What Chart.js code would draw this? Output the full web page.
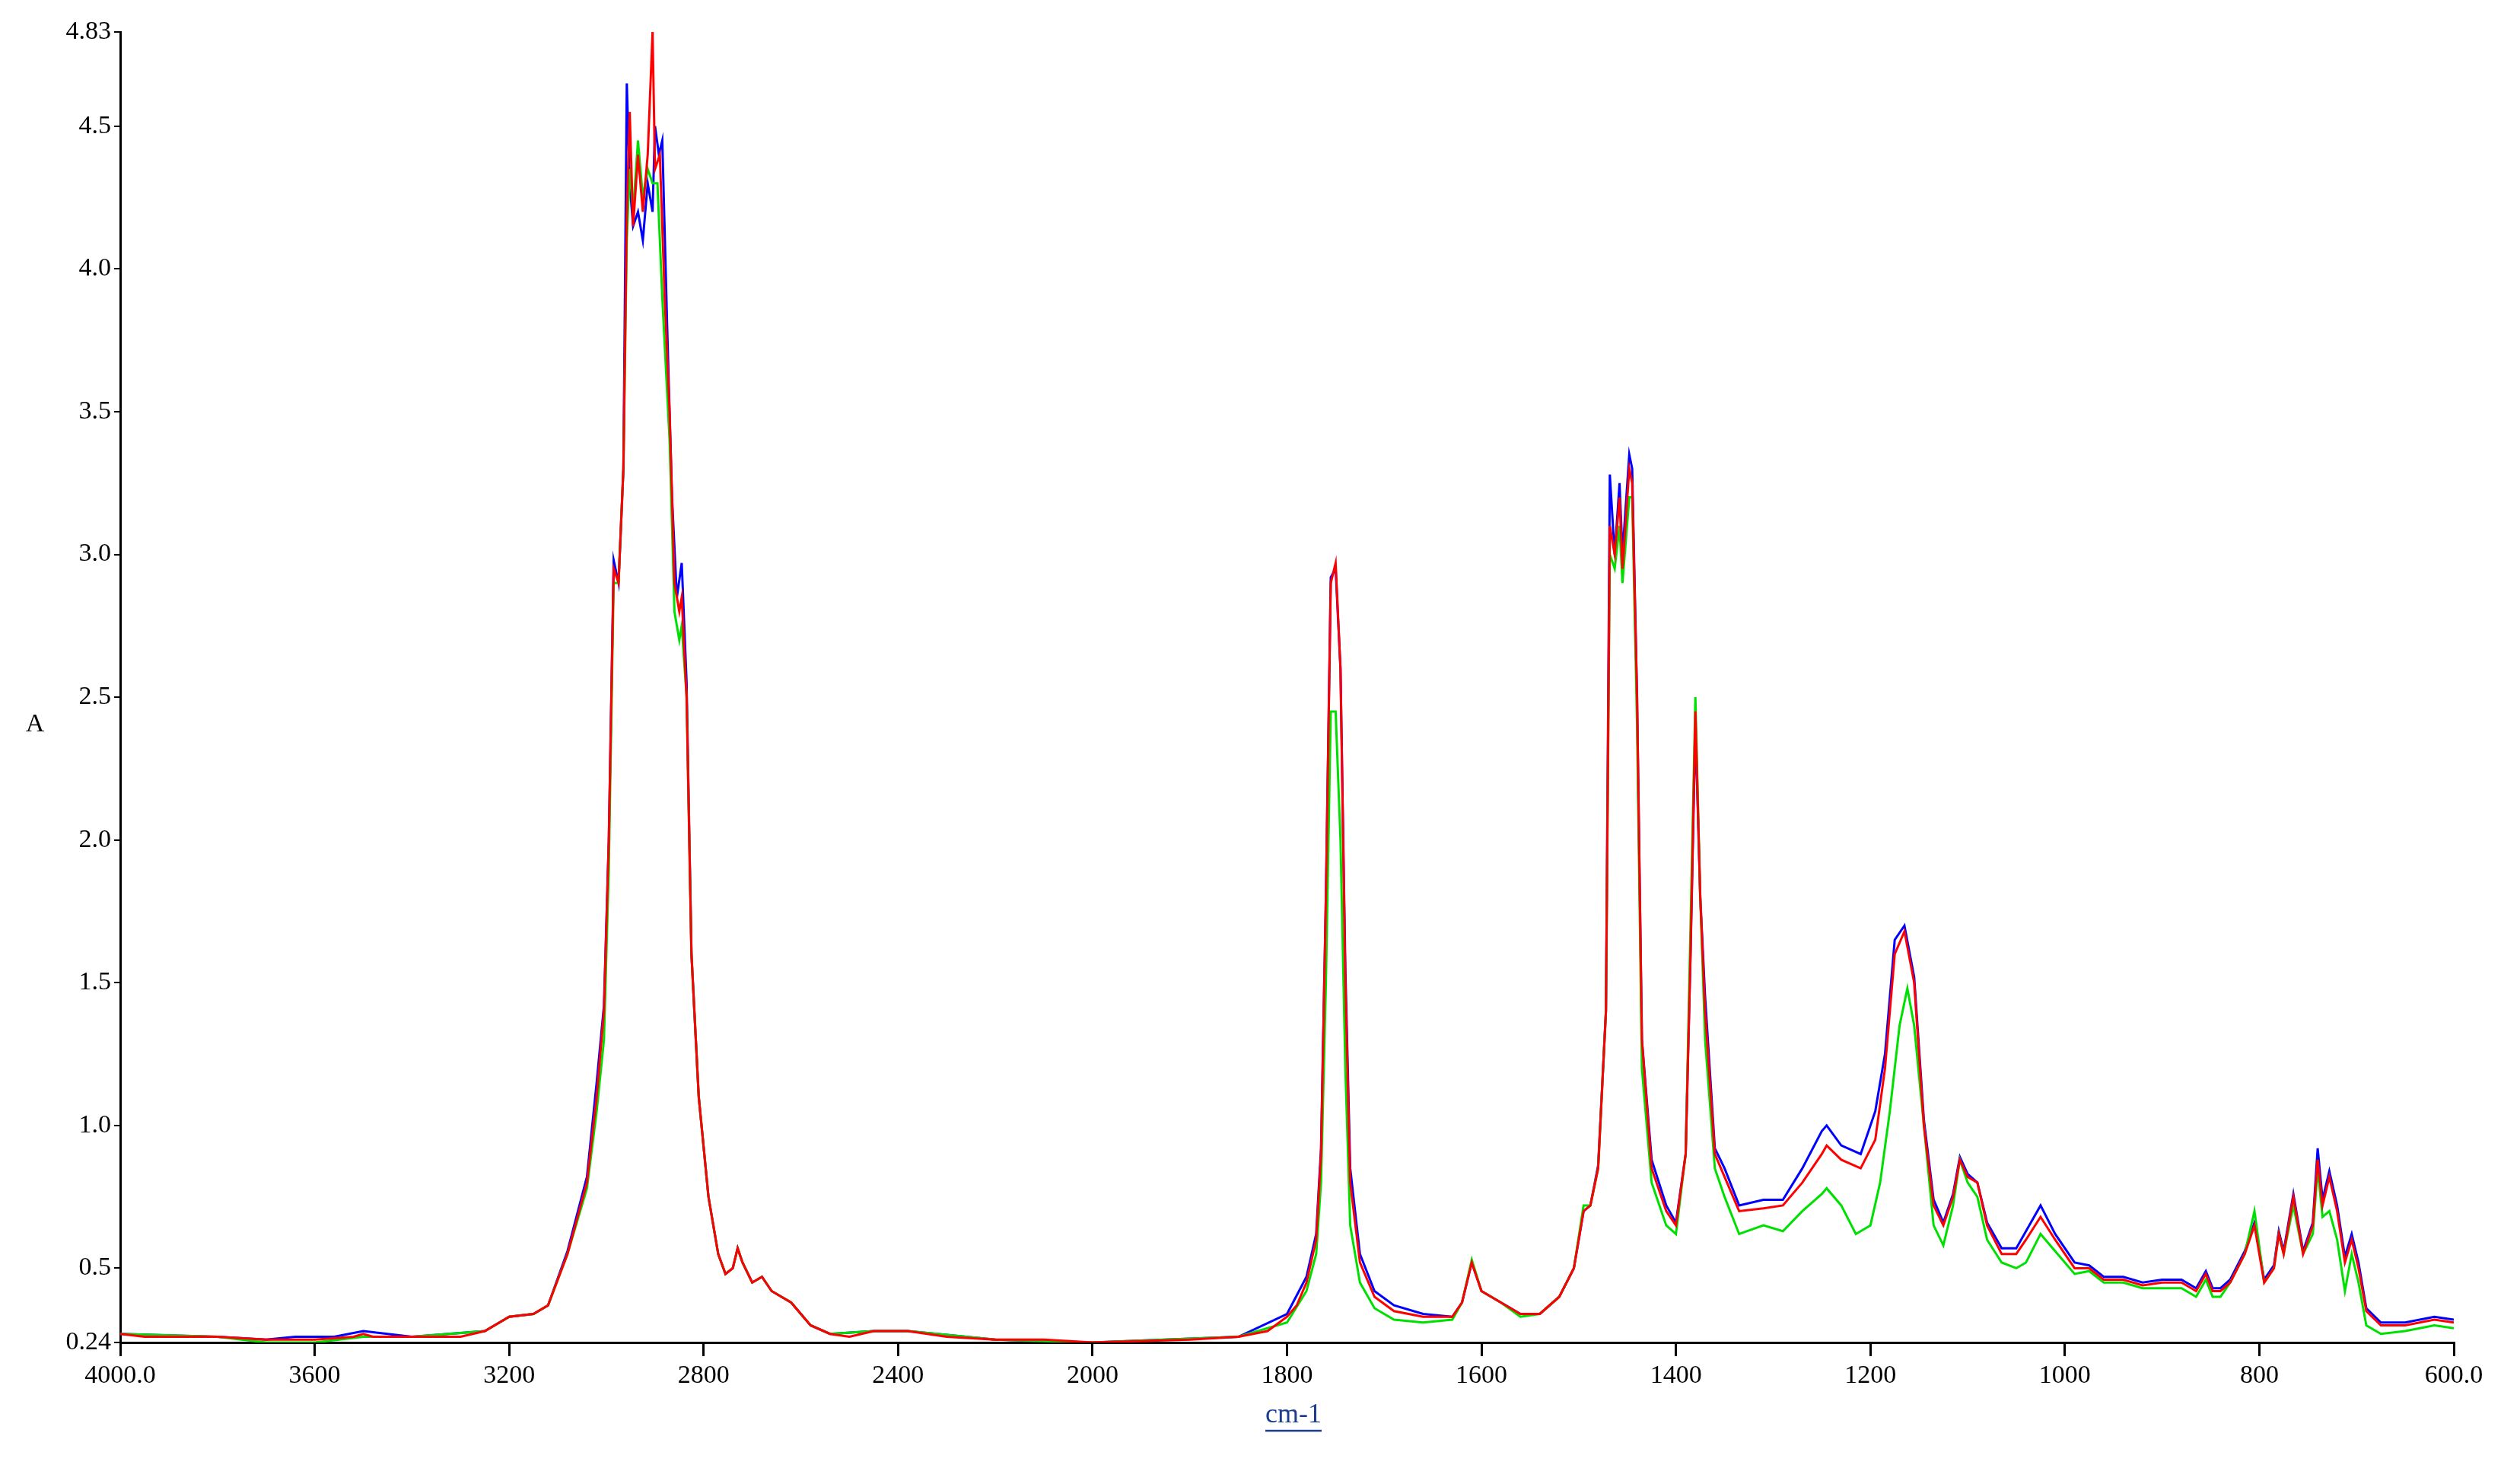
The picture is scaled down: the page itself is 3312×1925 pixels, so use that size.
<!DOCTYPE html>
<html><head><meta charset="utf-8">
<script src="https://cdn.jsdelivr.net/npm/chart.js@4"></script>
<style>html,body{margin:0;padding:0;background:#fff}#w{width:3312px;height:1925px}</style>
</head><body><div id="w"><canvas id="c"></canvas></div>
<script>
const xTickValues=[4000,3600,3200,2800,2400,2000,1800,1600,1400,1200,1000,800,600];
const xTickLabels=["4000.0","3600","3200","2800","2400","2000","1800","1600","1400","1200","1000","800","600.0"];
const yTickValues=[0.24,0.5,1.0,1.5,2.0,2.5,3.0,3.5,4.0,4.5,4.83];
const yTickLabels=["0.24","0.5","1.0","1.5","2.0","2.5","3.0","3.5","4.0","4.5","4.83"];
const redSeries=[[4000,0.27],[3950,0.26],[3800,0.26],[3700,0.25],[3600,0.25],[3520,0.26],[3500,0.27],[3480,0.26],[3400,0.26],[3300,0.26],[3250,0.28],[3200,0.33],[3150,0.34],[3120,0.37],[3080,0.55],[3040,0.8],[3020,1.1],[3005,1.4],[2995,2.0],[2985,2.95],[2975,2.9],[2965,3.3],[2958,4.2],[2952,4.55],[2945,4.15],[2935,4.4],[2925,4.2],[2915,4.4],[2905,4.83],[2900,4.35],[2890,4.4],[2880,3.9],[2870,3.5],[2860,2.9],[2850,2.8],[2845,2.85],[2835,2.5],[2825,1.6],[2810,1.1],[2790,0.75],[2770,0.55],[2755,0.48],[2740,0.5],[2730,0.57],[2720,0.52],[2700,0.45],[2680,0.47],[2660,0.42],[2620,0.38],[2580,0.3],[2540,0.27],[2500,0.26],[2450,0.28],[2380,0.28],[2300,0.26],[2200,0.25],[2100,0.25],[2000,0.24],[1900,0.25],[1850,0.26],[1820,0.28],[1800,0.33],[1790,0.37],[1780,0.45],[1770,0.6],[1765,0.9],[1760,1.8],[1755,2.9],[1750,2.97],[1745,2.6],[1740,1.5],[1735,0.8],[1725,0.52],[1710,0.4],[1690,0.35],[1660,0.33],[1630,0.33],[1620,0.38],[1610,0.52],[1600,0.42],[1580,0.38],[1560,0.34],[1540,0.34],[1520,0.4],[1505,0.5],[1495,0.7],[1488,0.72],[1480,0.85],[1472,1.4],[1468,3.1],[1463,3.0],[1458,3.2],[1455,2.95],[1448,3.3],[1445,3.25],[1440,2.5],[1435,1.3],[1425,0.85],[1410,0.7],[1400,0.65],[1390,0.9],[1385,1.6],[1380,2.45],[1375,1.8],[1370,1.4],[1360,0.9],[1350,0.82],[1335,0.7],[1310,0.71],[1290,0.72],[1270,0.8],[1250,0.9],[1245,0.93],[1230,0.88],[1210,0.85],[1195,0.95],[1185,1.2],[1175,1.6],[1165,1.68],[1155,1.5],[1145,1.0],[1135,0.72],[1125,0.65],[1115,0.75],[1108,0.88],[1100,0.82],[1090,0.8],[1080,0.65],[1065,0.55],[1050,0.55],[1040,0.6],[1025,0.68],[1010,0.6],[990,0.5],[975,0.5],[960,0.46],[940,0.46],[920,0.44],[900,0.45],[880,0.45],[865,0.42],[855,0.48],[848,0.42],[840,0.42],[830,0.45],[815,0.55],[805,0.65],[795,0.45],[785,0.5],[780,0.62],[775,0.55],[765,0.75],[755,0.55],[745,0.65],[740,0.88],[735,0.72],[728,0.82],[720,0.7],[712,0.52],[705,0.6],[698,0.5],[690,0.35],[675,0.3],[650,0.3],[620,0.32],[600,0.31]];
const greenSeries=[[4000,0.27],[3800,0.26],[3700,0.24],[3600,0.24],[3500,0.26],[3400,0.26],[3250,0.28],[3200,0.33],[3150,0.34],[3120,0.37],[3080,0.55],[3040,0.78],[3020,1.05],[3005,1.3],[2995,1.9],[2985,2.9],[2975,2.9],[2965,3.3],[2958,4.1],[2952,4.35],[2945,4.2],[2935,4.45],[2925,4.25],[2915,4.35],[2905,4.3],[2895,4.3],[2885,3.9],[2870,3.4],[2860,2.8],[2850,2.7],[2845,2.75],[2835,2.5],[2825,1.6],[2810,1.1],[2790,0.75],[2770,0.55],[2755,0.48],[2740,0.5],[2730,0.57],[2720,0.52],[2700,0.45],[2680,0.47],[2660,0.42],[2620,0.38],[2580,0.3],[2540,0.27],[2450,0.28],[2380,0.28],[2200,0.25],[2000,0.24],[1850,0.26],[1800,0.31],[1780,0.42],[1770,0.55],[1765,0.8],[1760,1.5],[1755,2.45],[1750,2.45],[1745,2.0],[1740,1.2],[1735,0.65],[1725,0.45],[1710,0.36],[1690,0.32],[1660,0.31],[1630,0.32],[1620,0.38],[1610,0.53],[1600,0.42],[1580,0.38],[1560,0.33],[1540,0.34],[1520,0.4],[1505,0.5],[1495,0.72],[1488,0.72],[1480,0.85],[1472,1.4],[1468,3.0],[1463,2.95],[1458,3.1],[1455,2.9],[1448,3.2],[1445,3.2],[1440,2.4],[1435,1.2],[1425,0.8],[1410,0.65],[1400,0.62],[1390,0.9],[1385,1.7],[1380,2.5],[1375,1.8],[1370,1.3],[1360,0.85],[1350,0.75],[1335,0.62],[1310,0.65],[1290,0.63],[1270,0.7],[1250,0.76],[1245,0.78],[1230,0.72],[1215,0.62],[1200,0.65],[1190,0.8],[1180,1.05],[1170,1.35],[1162,1.48],[1155,1.35],[1145,1.0],[1135,0.65],[1125,0.58],[1115,0.72],[1108,0.88],[1100,0.8],[1090,0.75],[1080,0.6],[1065,0.52],[1050,0.5],[1040,0.52],[1025,0.62],[1010,0.56],[990,0.48],[975,0.49],[960,0.45],[940,0.45],[920,0.43],[900,0.43],[880,0.43],[865,0.4],[855,0.46],[848,0.4],[840,0.4],[830,0.45],[815,0.55],[805,0.7],[795,0.45],[785,0.5],[780,0.62],[775,0.55],[765,0.72],[755,0.55],[745,0.62],[740,0.85],[735,0.68],[728,0.7],[720,0.6],[712,0.42],[705,0.55],[698,0.45],[690,0.3],[675,0.27],[650,0.28],[620,0.3],[600,0.29]];
const blueSeries=[[4000,0.27],[3800,0.26],[3700,0.25],[3640,0.26],[3560,0.26],[3500,0.28],[3400,0.26],[3250,0.28],[3200,0.33],[3150,0.34],[3120,0.37],[3080,0.56],[3040,0.82],[3020,1.15],[3005,1.42],[2995,2.0],[2985,2.98],[2975,2.9],[2965,3.3],[2958,4.65],[2952,4.3],[2945,4.15],[2935,4.2],[2925,4.1],[2915,4.3],[2905,4.2],[2900,4.5],[2892,4.4],[2885,4.45],[2875,3.8],[2865,3.2],[2855,2.85],[2845,2.97],[2835,2.55],[2825,1.6],[2810,1.1],[2790,0.75],[2770,0.55],[2755,0.48],[2740,0.5],[2730,0.57],[2720,0.52],[2700,0.45],[2680,0.47],[2660,0.42],[2620,0.38],[2580,0.3],[2540,0.27],[2450,0.28],[2380,0.28],[2200,0.25],[2000,0.24],[1850,0.26],[1800,0.34],[1780,0.47],[1770,0.62],[1765,0.92],[1760,1.8],[1755,2.92],[1750,2.95],[1745,2.6],[1740,1.55],[1735,0.85],[1725,0.55],[1710,0.42],[1690,0.37],[1660,0.34],[1630,0.33],[1620,0.38],[1610,0.52],[1600,0.42],[1580,0.38],[1560,0.34],[1540,0.34],[1520,0.4],[1505,0.5],[1495,0.7],[1488,0.72],[1480,0.86],[1472,1.4],[1468,3.28],[1463,3.0],[1458,3.25],[1455,3.0],[1448,3.35],[1445,3.3],[1440,2.5],[1435,1.3],[1425,0.88],[1410,0.72],[1400,0.66],[1390,0.9],[1385,1.6],[1380,2.4],[1375,1.8],[1370,1.45],[1360,0.92],[1350,0.85],[1335,0.72],[1310,0.74],[1290,0.74],[1270,0.85],[1250,0.98],[1245,1.0],[1230,0.93],[1210,0.9],[1195,1.05],[1185,1.25],[1175,1.65],[1165,1.7],[1155,1.52],[1145,1.02],[1135,0.74],[1125,0.66],[1115,0.76],[1108,0.89],[1100,0.83],[1090,0.8],[1080,0.66],[1065,0.57],[1050,0.57],[1040,0.63],[1025,0.72],[1010,0.62],[990,0.52],[975,0.51],[960,0.47],[940,0.47],[920,0.45],[900,0.46],[880,0.46],[865,0.43],[855,0.49],[848,0.43],[840,0.43],[830,0.46],[815,0.56],[805,0.66],[795,0.46],[785,0.51],[780,0.63],[775,0.56],[765,0.76],[755,0.56],[745,0.66],[740,0.92],[735,0.74],[728,0.84],[720,0.72],[712,0.54],[705,0.62],[698,0.52],[690,0.36],[675,0.31],[650,0.31],[620,0.33],[600,0.32]];

// The instrument axis is compressed 2:1 above 2000 cm-1
const BREAK=2000;
const fwd=w=>w<=BREAK?w:BREAK+(w-BREAK)/2;
const toPts=a=>a.map(p=>({x:fwd(p[0]),y:p[1]}));
const FONT="'Liberation Serif','Times New Roman',serif";
const labelsPlugin={id:'lbl',afterDraw(ch){const c=ch.ctx;c.save();c.fillStyle='#000';c.font='34px '+FONT;c.textAlign='center';c.textBaseline='middle';c.fillText('A',46,952);
c.fillStyle='#1a3d8f';c.font='36px '+FONT;const t='cm-1',x=1700,y=1860;c.fillText(t,x,y);const w=c.measureText(t).width;c.strokeStyle='#1a3d8f';c.lineWidth=2.5;c.beginPath();c.moveTo(x-w/2,y+20);c.lineTo(x+w/2,y+20);c.stroke();c.restore();}};
new Chart(document.getElementById('c'),{type:'line',
data:{datasets:[
{data:toPts(redSeries),borderColor:'#ff0000',order:0},
{data:toPts(greenSeries),borderColor:'#00e000',order:1},
{data:toPts(blueSeries),borderColor:'#0000ff',order:2}]},
options:{responsive:true,maintainAspectRatio:false,animation:false,
elements:{point:{radius:0},line:{borderWidth:3,tension:0}},
layout:{padding:{top:42,right:87,left:0,bottom:0}},
plugins:{legend:{display:false},tooltip:{enabled:false}},
scales:{
x:{type:'linear',reverse:true,min:fwd(600),max:fwd(4000),
afterBuildTicks:s=>{s.ticks=xTickValues.map(v=>({value:fwd(v)}));},
afterFit:s=>{s.height=161;},
ticks:{autoSkip:false,maxRotation:0,color:'#000',font:{family:FONT,size:34},padding:6,callback:v=>xTickLabels[xTickValues.map(fwd).indexOf(v)]},
grid:{drawOnChartArea:false,color:'#000',tickLength:18,lineWidth:3},border:{color:'#000',width:3}},
y:{min:0.24,max:4.83,
afterBuildTicks:s=>{s.ticks=yTickValues.map(v=>({value:v}));},
afterFit:s=>{s.width=158;},
ticks:{autoSkip:false,color:'#000',font:{family:FONT,size:34},padding:4,callback:v=>yTickLabels[yTickValues.indexOf(v)]},
grid:{drawOnChartArea:false,color:'#000',tickLength:8,lineWidth:2},border:{color:'#000',width:3}}}},
plugins:[labelsPlugin]});
</script></body></html>
